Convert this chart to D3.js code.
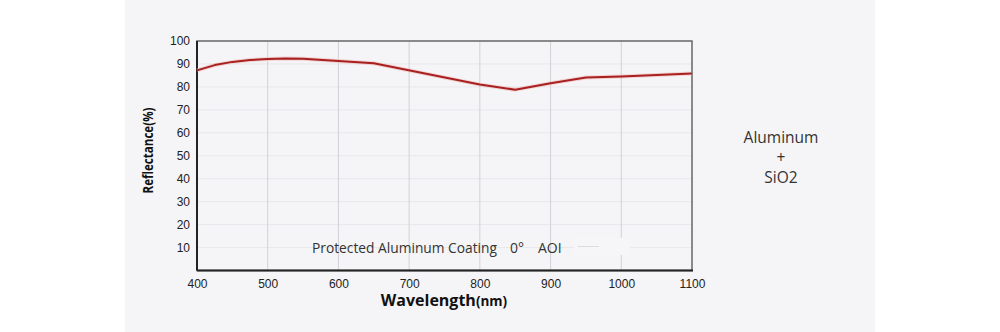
<!DOCTYPE html>
<html><head><meta charset="utf-8">
<script src="https://cdn.jsdelivr.net/npm/d3@7"></script>
<style>html,body{margin:0;padding:0;background:#fff;}svg{display:block;}</style>
</head><body>
<script>
const wavelengths = [400, 425, 450, 475, 500, 525, 550, 600, 650, 800, 850, 900, 950, 1000, 1100];
const reflectance = [87.2, 89.5, 90.9, 91.7, 92.2, 92.4, 92.3, 91.3, 90.3, 81.0, 78.8, 81.6, 84.1, 84.5, 85.8];
const xTicks = [400, 500, 600, 700, 800, 900, 1000, 1100];
const yTicks = [10, 20, 30, 40, 50, 60, 70, 80, 90, 100];
const xTitle = "Wavelength";
const xUnit = "(nm)";
const yTitle = "Reflectance(%)";
const annotationParts = ["Protected Aluminum Coating", "0°", "AOI"];
const sideLabel = ["Aluminum", "+", "SiO2"];

const W = 1000, H = 332;
const svg = d3.select("body").append("svg").attr("width", W).attr("height", H);
svg.append("rect").attr("x", 125).attr("y", 0).attr("width", 750).attr("height", H).attr("fill", "#f5f5f7");

const m = {l: 197, r: 692, t: 41, b: 270.5};
const x = d3.scaleLinear().domain([400, 1100]).range([m.l, m.r]);
const y = d3.scaleLinear().domain([0, 100]).range([m.b, m.t]);

// horizontal faint grid
svg.append("g").selectAll("line").data(yTicks.filter(d => d < 100)).join("line")
  .attr("x1", m.l).attr("x2", m.r).attr("y1", d => y(d)).attr("y2", d => y(d))
  .attr("stroke", "#e8e8ec").attr("stroke-width", 1);
// vertical grid
svg.append("g").selectAll("line").data(xTicks.filter(d => d > 400 && d < 1100)).join("line")
  .attr("x1", d => x(d)).attr("x2", d => x(d)).attr("y1", m.t).attr("y2", m.b)
  .attr("stroke", "#d2d2d6").attr("stroke-width", 1);

// annotation with light backing
const ann = svg.append("g");
ann.append("rect").attr("x", 574).attr("y", 238).attr("width", 56).attr("height", 17).attr("fill", "#f6f6f8");
ann.append("line").attr("x1", 578).attr("x2", 599).attr("y1", 246.5).attr("y2", 246.5).attr("stroke", "#dcdce0");
const annX = [312, 510, 538];
const annW = [185, 0, 0];
ann.selectAll("text").data(annotationParts).join("text")
  .attr("x", (d, i) => annX[i]).attr("y", 252.5)
  .attr("font-family", "Open Sans, sans-serif").attr("font-size", 14).attr("fill", "#333")
  .each(function(d, i) { if (annW[i]) d3.select(this).attr("textLength", annW[i]).attr("lengthAdjust", "spacingAndGlyphs"); })
  .text(d => d);

// frame
svg.append("rect").attr("x", m.l).attr("y", m.t).attr("width", m.r - m.l).attr("height", m.b - m.t)
  .attr("fill", "none").attr("stroke", "#666").attr("stroke-width", 1.5);
svg.append("line").attr("x1", m.l).attr("x2", m.l).attr("y1", m.t).attr("y2", m.b).attr("stroke", "#222").attr("stroke-width", 2);
svg.append("line").attr("x1", m.l).attr("x2", m.r + 1).attr("y1", m.b).attr("y2", m.b).attr("stroke", "#222").attr("stroke-width", 2);

// axes labels via d3 axes
const xAxis = svg.append("g").attr("transform", `translate(0,${m.b})`)
  .call(d3.axisBottom(x).tickValues(xTicks).tickFormat(d3.format("d")).tickSize(0).tickPadding(9));
const yAxis = svg.append("g").attr("transform", `translate(${m.l},0)`)
  .call(d3.axisLeft(y).tickValues(yTicks).tickFormat(d3.format("d")).tickSize(0).tickPadding(7));
[xAxis, yAxis].forEach(g => {
  g.select(".domain").remove();
  g.selectAll("text").attr("font-family", "Liberation Sans, Arial, sans-serif").attr("font-size", 12).attr("fill", "#222");
});

// line
const line = d3.line().x((d, i) => x(wavelengths[i])).y(d => y(d)).curve(d3.curveLinear);
svg.append("path").datum(reflectance).attr("d", line).attr("fill", "none")
  .attr("stroke", "#f0b0b0").attr("stroke-width", 4).attr("stroke-opacity", 0.5).attr("stroke-linejoin", "round");
svg.append("path").datum(reflectance).attr("d", line).attr("fill", "none")
  .attr("stroke", "#a82020").attr("stroke-width", 2).attr("stroke-linejoin", "round");

// titles
const xt = svg.append("text").attr("x", 444).attr("y", 306).attr("text-anchor", "middle")
  .attr("font-family", "Open Sans, sans-serif").attr("font-weight", "bold").attr("font-size", 16).attr("fill", "#111");
xt.append("tspan").text(xTitle);
xt.append("tspan").attr("font-size", 13.5).text(xUnit);

svg.append("text").attr("transform", "translate(153,150.5) rotate(-90)").attr("text-anchor", "middle")
  .attr("font-family", "Open Sans, sans-serif").attr("font-weight", "bold").attr("font-size", 14).attr("fill", "#111")
  .attr("textLength", 86).attr("lengthAdjust", "spacingAndGlyphs")
  .text(yTitle);

svg.append("g").selectAll("text").data(sideLabel).join("text")
  .attr("x", 781).attr("y", (d, i) => 143 + i * 20).attr("text-anchor", "middle")
  .attr("font-family", "Open Sans, sans-serif").attr("font-size", 15.5).attr("fill", "#333").text(d => d);
</script>
</body></html>
